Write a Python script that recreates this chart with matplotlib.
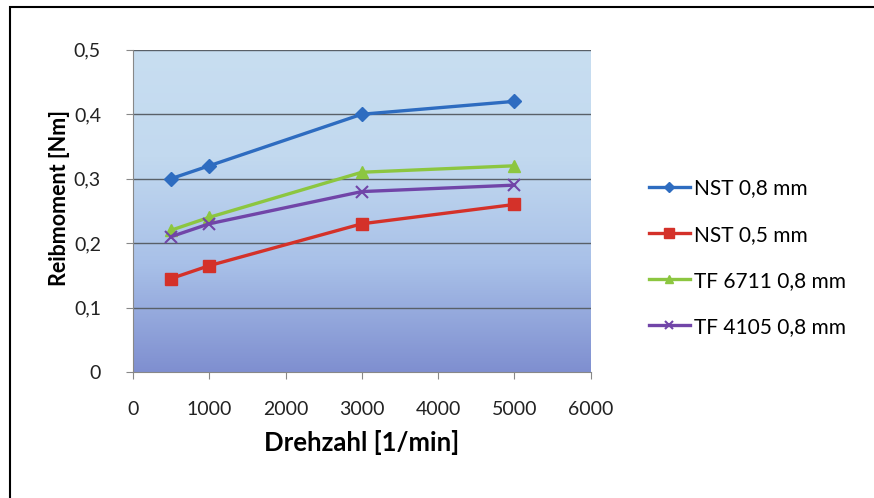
import numpy as np
import matplotlib.pyplot as plt
from matplotlib.colors import LinearSegmentedColormap
from matplotlib.patches import Rectangle

drehzahl = [500, 1000, 3000, 5000]
nst_08 = [0.30, 0.32, 0.40, 0.42]
nst_05 = [0.145, 0.165, 0.23, 0.26]
tf6711_08 = [0.22, 0.24, 0.31, 0.32]
tf4105_08 = [0.21, 0.23, 0.28, 0.29]

namen = ['NST 0,8 mm', 'NST 0,5 mm', 'TF 6711 0,8 mm', 'TF 4105 0,8 mm']
y_ticks = [0, 0.1, 0.2, 0.3, 0.4, 0.5]
y_labels = ['0', '0,1', '0,2', '0,3', '0,4', '0,5']
x_ticks = [0, 1000, 2000, 3000, 4000, 5000, 6000]

plt.rcParams['font.family'] = ['Lato', 'DejaVu Sans']

fig = plt.figure(figsize=(8.74, 4.98), dpi=100)
ax = fig.add_axes([0.152, 0.253, 0.524, 0.647])

# rahmen um das bild (nur oben und links sichtbar)
fig.patches.append(Rectangle((0.011, -0.1), 1.2, 1.086, transform=fig.transFigure,
                             fill=False, edgecolor='black', linewidth=1.5))

# hintergrund-verlauf
verlauf = LinearSegmentedColormap.from_list('v', ['#7f8fd0', '#a8c0e8', '#c2d9ef', '#c8def1'])
grad = np.linspace(0, 1, 256).reshape(-1, 1)
ax.imshow(grad, cmap=verlauf, origin='lower', aspect='auto',
          extent=[0, 6000, 0, 0.5], zorder=0)

for y in y_ticks[1:]:
    ax.axhline(y, color='#596068', linewidth=1.0, zorder=1)

ax.plot(drehzahl, nst_08, color='#2e6cc0', marker='D', markersize=7, linewidth=2.4, label=namen[0], zorder=3)
ax.plot(drehzahl, nst_05, color='#d43129', marker='s', markersize=9, linewidth=2.4, label=namen[1], zorder=3)
ax.plot(drehzahl, tf6711_08, color='#8cc640', marker='^', markersize=8, linewidth=2.4, label=namen[2], zorder=3)
ax.plot(drehzahl, tf4105_08, color='#7145a8', marker='x', markersize=8, markeredgewidth=1.5,
        linewidth=2.4, label=namen[3], zorder=3)

ax.set_xlim(0, 6000)
ax.set_ylim(0, 0.5)
ax.set_xticks(x_ticks)
ax.set_yticks(y_ticks)
ax.set_yticklabels(y_labels)
ax.tick_params(axis='both', labelsize=14, length=5, direction='out', colors='#222222')
ax.tick_params(axis='x', pad=16)
ax.tick_params(axis='y', pad=18)
ax.tick_params(axis='both', color='#888888')
for s in ['top', 'right']:
    ax.spines[s].set_visible(False)
for s in ['left', 'bottom']:
    ax.spines[s].set_color('#888888')

ax.set_xlabel('Drehzahl [1/min]', fontsize=18.5, fontweight='bold')
ax.set_ylabel('Reibmoment [Nm]', fontsize=15.5, fontweight='bold')
ax.xaxis.set_label_coords(0.5, -0.18)
ax.yaxis.set_label_coords(-0.138, 0.54)

ax.legend(loc='center left', bbox_to_anchor=(1.085, 0.355), frameon=False, fontsize=15,
          labelspacing=1.25, handlelength=2.0, handletextpad=0.2, markerscale=0.8)

fig.savefig('out.png', dpi=100)
